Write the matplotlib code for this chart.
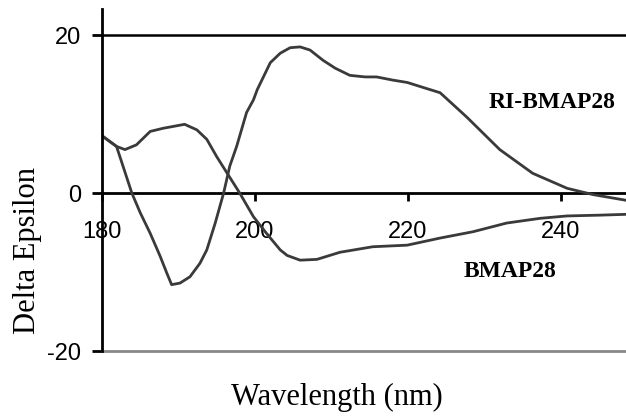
import matplotlib
matplotlib.use("Agg")
import matplotlib.pyplot as plt

plt.rcParams["axes.unicode_minus"] = False

# CD spectra, wavelength (nm) vs delta epsilon
ri_wl = [180, 181.9, 183.9, 185.0, 186.3, 187.6, 188.5, 189.1, 190.2, 191.5,
         192.8, 193.7, 194.8, 195.9, 196.7, 197.6, 198.9, 199.8, 200.3, 202.0,
         203.3, 204.6, 205.9, 207.2, 208.9, 210.5, 212.4, 214.4, 215.9, 218.0,
         219.9, 222.2, 224.2, 227.7, 232.0, 236.3, 240.8, 244.2, 248.4]
ri_de = [7.25, 5.9, 0.0, -2.5, -5.1, -8.0, -10.2, -11.6, -11.4, -10.6,
         -8.9, -7.2, -3.8, 0.0, 3.4, 5.9, 10.2, 11.8, 13.1, 16.5,
         17.7, 18.4, 18.5, 18.1, 16.8, 15.8, 14.9, 14.7, 14.7, 14.3,
         14.0, 13.3, 12.7, 9.6, 5.5, 2.5, 0.6, -0.2, -0.9]

bmap_wl = [180, 181.9, 183.0, 184.5, 186.3, 188.0, 190.8, 192.4, 193.7, 195.0,
           196.5, 198.0, 199.8, 201.5, 203.3, 204.2, 205.9, 208.1, 211.1, 215.4,
           219.9, 224.2, 228.5, 232.9, 237.3, 240.8, 245.1, 248.4]
bmap_de = [7.25, 5.9, 5.5, 6.1, 7.8, 8.2, 8.7, 8.0, 6.8, 4.6,
           2.3, 0.0, -3.0, -5.1, -7.2, -7.9, -8.5, -8.4, -7.5, -6.8,
           -6.6, -5.7, -4.9, -3.8, -3.2, -2.9, -2.8, -2.7]

xticks = [180, 200, 220, 240]
yticks = [-20, 0, 20]

fig = plt.figure(figsize=(6.26, 4.17), dpi=100)
ax = fig.add_axes([102 / 626, 66 / 417, 1 - 102 / 626, 342 / 417])

line_col = "#3a3a3a"
ax.plot(ri_wl, ri_de, color=line_col, lw=2.0, solid_joinstyle="round")
ax.plot(bmap_wl, bmap_de, color=line_col, lw=2.0, solid_joinstyle="round")

ax.axhline(20, color="black", lw=1.8, clip_on=False)
ax.axhline(-20, color="#888888", lw=2.0, clip_on=False)

ax.set_xlim(180, 248.5)
ax.set_ylim(-20, 23.3)

for s in ["top", "right"]:
    ax.spines[s].set_visible(False)
ax.spines["bottom"].set_position(("data", 0))
ax.spines["bottom"].set_linewidth(2.0)
ax.spines["left"].set_linewidth(2.0)
ax.spines["bottom"].set_zorder(1)

ax.set_xticks(xticks)
ax.set_yticks(yticks)
ax.tick_params(axis="x", direction="out", length=6, width=2, pad=14,
               labelsize=17)
ax.tick_params(axis="y", direction="out", length=7, width=2, pad=8,
               labelsize=17)
for lab in ax.get_xticklabels() + ax.get_yticklabels():
    lab.set_fontfamily("Liberation Sans")

ax.text(238.8, 11.4, "RI-BMAP28", fontfamily="Liberation Serif",
        fontweight="bold", fontsize=17, ha="center", va="center")
ax.text(233.3, -9.9, "BMAP28", fontfamily="Liberation Serif",
        fontweight="bold", fontsize=17, ha="center", va="center")

fig.text(337 / 626, 1 - 397 / 417, "Wavelength (nm)", fontfamily="Liberation Serif",
         fontsize=22, ha="center", va="center")
fig.text(28 / 626, 1 - 250 / 417, "Delta Epsilon", fontfamily="Liberation Serif",
         fontsize=22, ha="center", va="center", rotation=90)

fig.savefig("out.png", dpi=100)
